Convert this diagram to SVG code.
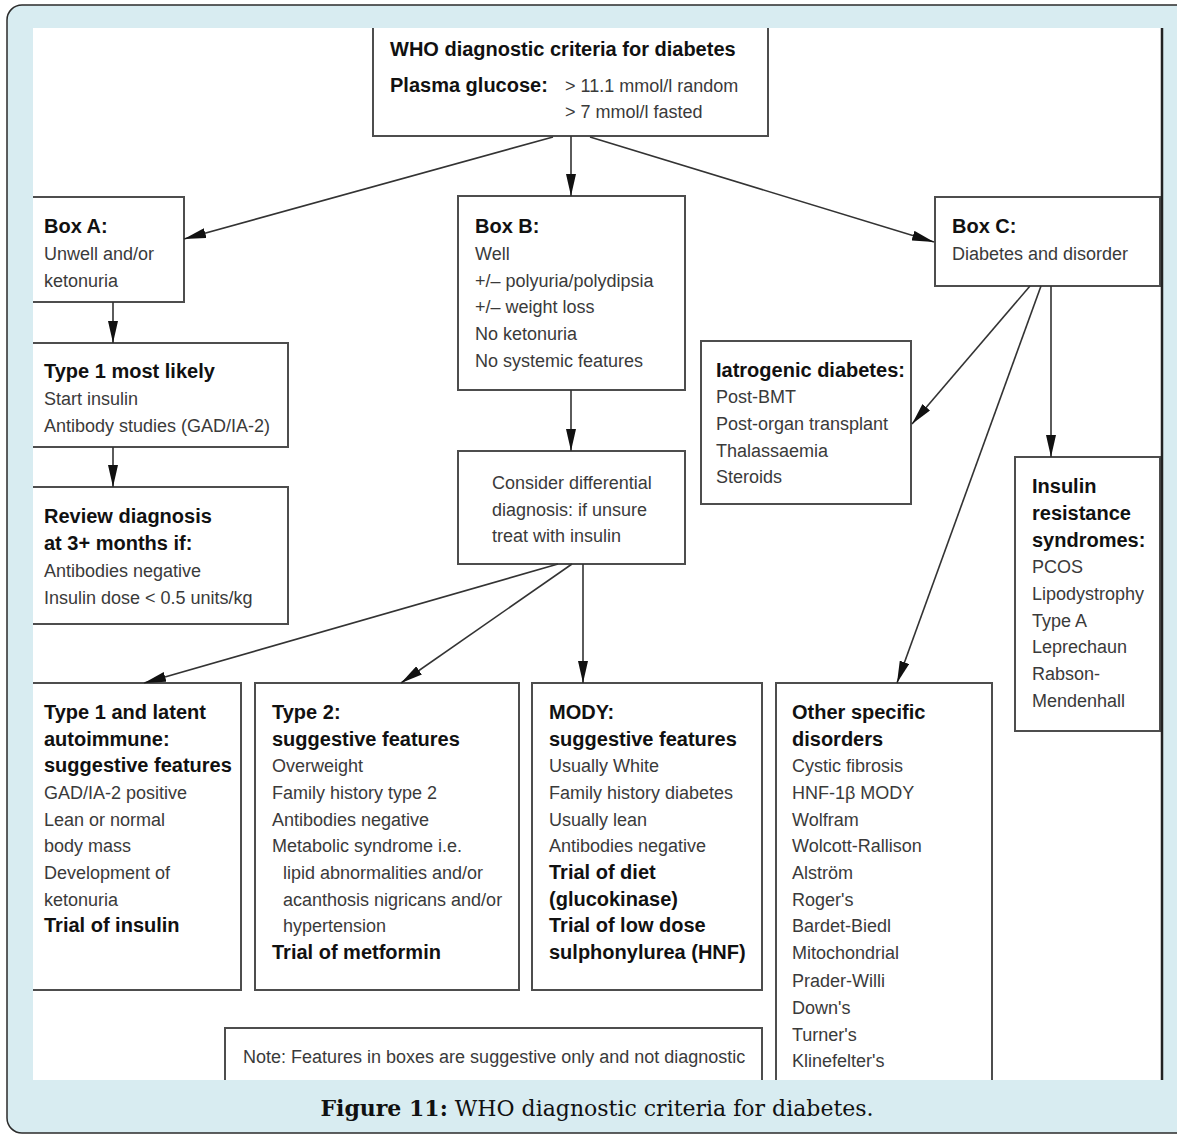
<svg xmlns="http://www.w3.org/2000/svg" width="1177" height="1135" viewBox="0 0 1177 1135">
<defs>
<style>
.frame{fill:#d8ecf1;stroke:#2b2b2b;stroke-width:1.5}
.box{fill:none;stroke:#4d4d4d;stroke-width:2}
.b{font-family:"Liberation Sans",Arial,sans-serif;font-weight:bold;font-size:20px;fill:#111}
.r{font-family:"Liberation Sans",Arial,sans-serif;font-size:18px;fill:#3a3a3a}
#connectors path{stroke:#333;stroke-width:1.6;fill:none;marker-end:url(#ah)}
.cap{font-family:"DejaVu Serif",serif;font-size:22px;fill:#111}
</style>
<marker id="ah" markerUnits="userSpaceOnUse" viewBox="0 0 22 10" refX="22" refY="5" markerWidth="22" markerHeight="10" orient="auto"><path d="M0,0 L22,5 L0,10 z" fill="#111"/></marker>
<clipPath id="clip"><rect x="33" y="28" width="1129" height="1052"/></clipPath>
</defs>
<rect class="frame" x="7" y="5" width="1200" height="1128" rx="15"/>
<rect x="33" y="28" width="1129" height="1052" fill="#fff"/>
<g clip-path="url(#clip)">
<g id="who">
<rect class="box" x="373" y="10" width="395" height="126"/>
<text class="b" x="390" y="56">WHO diagnostic criteria for diabetes</text>
<text class="b" x="390" y="92">Plasma glucose:</text>
<text class="r" x="565" y="92">&gt; 11.1 mmol/l random</text>
<text class="r" x="565" y="118">&gt; 7 mmol/l fasted</text>
</g>
<g id="boxA">
<rect class="box" x="25" y="197" width="159" height="105"/>
<text class="b" x="44" y="233">Box A:</text>
<text class="r" x="44" y="260">Unwell and/or</text>
<text class="r" x="44" y="287">ketonuria</text>
</g>
<g id="boxB">
<rect class="box" x="458" y="196" width="227" height="194"/>
<text class="b" x="475" y="233">Box B:</text>
<text class="r" x="475" y="260">Well</text>
<text class="r" x="475" y="287">+/– polyuria/polydipsia</text>
<text class="r" x="475" y="313">+/– weight loss</text>
<text class="r" x="475" y="340">No ketonuria</text>
<text class="r" x="475" y="367">No systemic features</text>
</g>
<g id="boxC">
<rect class="box" x="935" y="197" width="225" height="89"/>
<text class="b" x="952" y="233">Box C:</text>
<text class="r" x="952" y="260">Diabetes and disorder</text>
</g>
<g id="type1">
<rect class="box" x="25" y="343" width="263" height="104"/>
<text class="b" x="44" y="378">Type 1 most likely</text>
<text class="r" x="44" y="405">Start insulin</text>
<text class="r" x="44" y="432">Antibody studies (GAD/IA-2)</text>
</g>
<g id="review">
<rect class="box" x="25" y="487" width="263" height="137"/>
<text class="b" x="44" y="523">Review diagnosis</text>
<text class="b" x="44" y="550">at 3+ months if:</text>
<text class="r" x="44" y="577">Antibodies negative</text>
<text class="r" x="44" y="604">Insulin dose &lt; 0.5 units/kg</text>
</g>
<g id="consider">
<rect class="box" x="458" y="451" width="227" height="113"/>
<text class="r" x="492" y="489">Consider differential</text>
<text class="r" x="492" y="516">diagnosis: if unsure</text>
<text class="r" x="492" y="542">treat with insulin</text>
</g>
<g id="iatrogenic">
<rect class="box" x="701" y="341" width="210" height="163"/>
<text class="b" x="716" y="377">Iatrogenic diabetes:</text>
<text class="r" x="716" y="403">Post-BMT</text>
<text class="r" x="716" y="430">Post-organ transplant</text>
<text class="r" x="716" y="457">Thalassaemia</text>
<text class="r" x="716" y="483">Steroids</text>
</g>
<g id="insulinResistance">
<rect class="box" x="1015" y="457" width="145" height="274"/>
<text class="b" x="1032" y="493">Insulin</text>
<text class="b" x="1032" y="520">resistance</text>
<text class="b" x="1032" y="547">syndromes:</text>
<text class="r" x="1032" y="573">PCOS</text>
<text class="r" x="1032" y="600">Lipodystrophy</text>
<text class="r" x="1032" y="627">Type A</text>
<text class="r" x="1032" y="653">Leprechaun</text>
<text class="r" x="1032" y="680">Rabson-</text>
<text class="r" x="1032" y="707">Mendenhall</text>
</g>
<g id="type1latent">
<rect class="box" x="25" y="683" width="216" height="307"/>
<text class="b" x="44" y="719">Type 1 and latent</text>
<text class="b" x="44" y="746">autoimmune:</text>
<text class="b" x="44" y="772">suggestive features</text>
<text class="r" x="44" y="799">GAD/IA-2 positive</text>
<text class="r" x="44" y="826">Lean or normal</text>
<text class="r" x="44" y="852">body mass</text>
<text class="r" x="44" y="879">Development of</text>
<text class="r" x="44" y="906">ketonuria</text>
<text class="b" x="44" y="932">Trial of insulin</text>
</g>
<g id="type2">
<rect class="box" x="255" y="683" width="264" height="307"/>
<text class="b" x="272" y="719">Type 2:</text>
<text class="b" x="272" y="746">suggestive features</text>
<text class="r" x="272" y="772">Overweight</text>
<text class="r" x="272" y="799">Family history type 2</text>
<text class="r" x="272" y="826">Antibodies negative</text>
<text class="r" x="272" y="852">Metabolic syndrome i.e.</text>
<text class="r" x="283" y="879">lipid abnormalities and/or</text>
<text class="r" x="283" y="906">acanthosis nigricans and/or</text>
<text class="r" x="283" y="932">hypertension</text>
<text class="b" x="272" y="959">Trial of metformin</text>
</g>
<g id="mody">
<rect class="box" x="532" y="683" width="230" height="307"/>
<text class="b" x="549" y="719">MODY:</text>
<text class="b" x="549" y="746">suggestive features</text>
<text class="r" x="549" y="772">Usually White</text>
<text class="r" x="549" y="799">Family history diabetes</text>
<text class="r" x="549" y="826">Usually lean</text>
<text class="r" x="549" y="852">Antibodies negative</text>
<text class="b" x="549" y="879">Trial of diet</text>
<text class="b" x="549" y="906">(glucokinase)</text>
<text class="b" x="549" y="932">Trial of low dose</text>
<text class="b" x="549" y="959">sulphonylurea (HNF)</text>
</g>
<g id="otherSpecific">
<rect class="box" x="776" y="683" width="216" height="420"/>
<text class="b" x="792" y="719">Other specific</text>
<text class="b" x="792" y="746">disorders</text>
<text class="r" x="792" y="772">Cystic fibrosis</text>
<text class="r" x="792" y="799">HNF-1β MODY</text>
<text class="r" x="792" y="826">Wolfram</text>
<text class="r" x="792" y="852">Wolcott-Rallison</text>
<text class="r" x="792" y="879">Alström</text>
<text class="r" x="792" y="906">Roger's</text>
<text class="r" x="792" y="932">Bardet-Biedl</text>
<text class="r" x="792" y="959">Mitochondrial</text>
<text class="r" x="792" y="987">Prader-Willi</text>
<text class="r" x="792" y="1014">Down's</text>
<text class="r" x="792" y="1041">Turner's</text>
<text class="r" x="792" y="1067">Klinefelter's</text>
</g>
<g id="note">
<rect class="box" x="225" y="1028" width="537" height="80"/>
<text class="r" x="243" y="1063">Note: Features in boxes are suggestive only and not diagnostic</text>
</g>
<g id="connectors">
<path d="M553,137 L184,239"/>
<path d="M571,136 V196"/>
<path d="M590,137 L934,242"/>
<path d="M113,302 V343"/>
<path d="M113,447 V487"/>
<path d="M571,390 V451"/>
<path d="M558,564 L144,683"/>
<path d="M572,564 L401,683"/>
<path d="M583,564 V683"/>
<path d="M1030,286 L912,424"/>
<path d="M1041,286 L897,683"/>
<path d="M1051,286 V457"/>
</g>
</g>
<line x1="1162" y1="28" x2="1162" y2="1080" stroke="#222" stroke-width="2.5"/>
<text class="cap" x="597" y="1116" text-anchor="middle"><tspan font-weight="bold">Figure 11:</tspan> WHO diagnostic criteria for diabetes.</text>
</svg>
